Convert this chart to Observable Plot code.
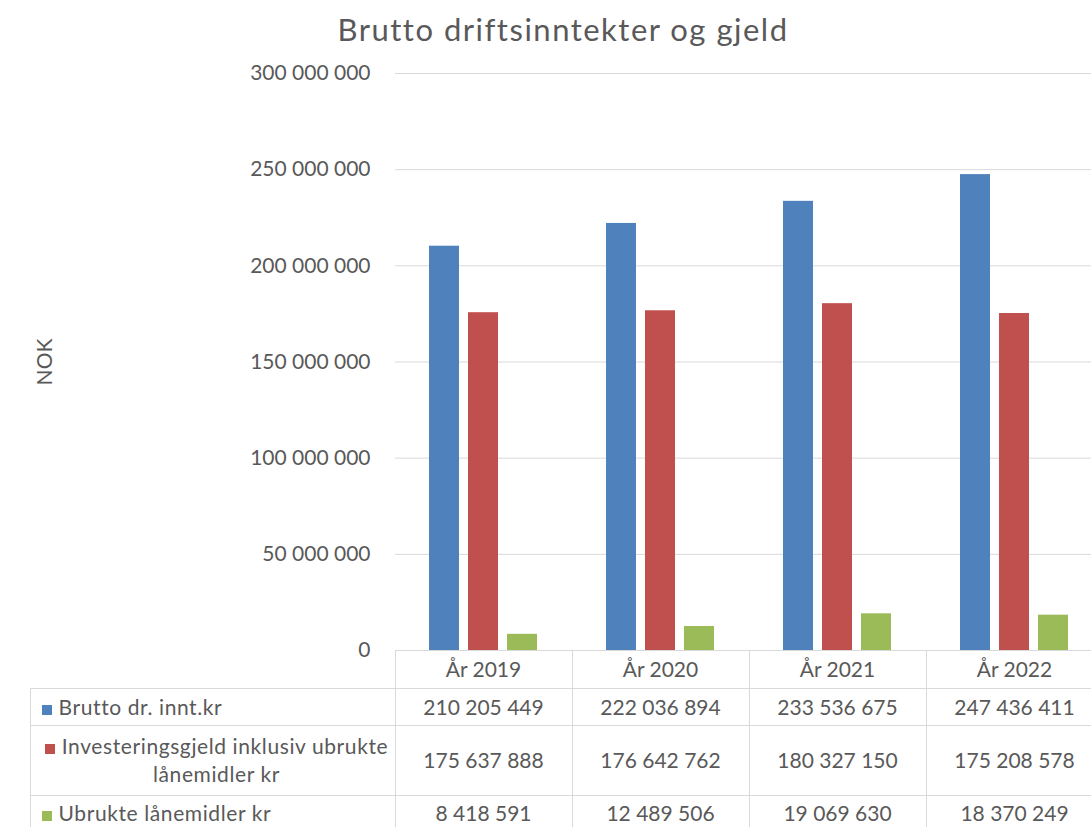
<!DOCTYPE html>
<html><head><meta charset="utf-8">
<script src="https://cdn.jsdelivr.net/npm/d3@7"></script>
<script src="https://cdn.jsdelivr.net/npm/@observablehq/plot@0.6"></script>
<style>
html,body{margin:0;padding:0;background:#fff;overflow:hidden}
#wrap{position:relative;width:1091px;height:827px;overflow:hidden;font-family:Lato,"Open Sans",sans-serif;color:#595959}
#title{position:absolute;left:0;top:14px;width:1126px;text-align:center;font-size:31px;line-height:31px;letter-spacing:1.5px;white-space:nowrap}
#chart{position:absolute;left:0;top:0;width:1110px}
#chart svg{max-width:none}
#tbl{position:absolute;border-collapse:collapse;table-layout:fixed;font-size:21px;line-height:28px}
#tbl td{border:1px solid #d9d9d9;padding:0;text-align:center;vertical-align:middle;white-space:nowrap}
#tbl td.name{text-align:left;padding:0 2px 0 11px;white-space:normal;letter-spacing:0.6px}
#tbl td.blank{border-top:none;border-left:none}
.lab{display:inline-block;text-align:center;max-width:350px}
.key{display:inline-block;width:10px;height:10px;margin-right:7px;vertical-align:0px}
</style></head>
<body><div id="wrap"><div id="title"></div><div id="chart"></div><table id="tbl"></table></div>
<script>
const title = "Brutto driftsinntekter og gjeld";
const yLabel = "NOK";
const years = ["År 2019", "År 2020", "År 2021", "År 2022"];
const seriesNames = ["Brutto dr. innt.kr", "Investeringsgjeld inklusiv ubrukte lånemidler kr", "Ubrukte lånemidler kr"];
const brutto = [210205449, 222036894, 233536675, 247436411];
const investering = [175637888, 176642762, 180327150, 175208578];
const ubrukte = [8418591, 12489506, 19069630, 18370249];
const colors = ["#4f81bd", "#c0504d", "#9bbb59"];
const yTicks = [0, 50000000, 100000000, 150000000, 200000000, 250000000, 300000000];

const seriesValues = [brutto, investering, ubrukte];
const data = years.flatMap((yr, i) => seriesNames.map((s, j) => ({year: yr, series: s, value: seriesValues[j][i]})));
const fmt = d => d3.format(",")(d).replace(/,/g, " ");

document.getElementById("title").textContent = title;

const chart = Plot.plot({
  width: 1110, height: 660,
  marginTop: 73, marginBottom: 10, marginLeft: 393, marginRight: 6,
  style: {fontFamily: "Lato, 'Open Sans', sans-serif", color: "#595959", background: "transparent", overflow: "visible", maxWidth: "none"},
  fx: {domain: years, padding: 0, axis: null, label: null},
  x: {domain: seriesNames, paddingInner: 0.225, paddingOuter: 0.8375, axis: null},
  y: {domain: [0, 300000000]},
  color: {domain: seriesNames, range: colors},
  marks: [
    Plot.gridY(yTicks, {stroke: "#d9d9d9", strokeOpacity: 1, strokeWidth: 1}),
    Plot.barY(data, {fx: "year", x: "series", y: "value", fill: "series"}),
    Plot.axisY(yTicks, {tickSize: 0, tickPadding: 25, tickFormat: fmt, fontSize: 21, fill: "#595959",
      label: yLabel, labelAnchor: "center", labelArrow: "none", labelOffset: 358})
  ]
});
document.getElementById("chart").appendChild(chart);

// data table below the plot, aligned on the fx scale
const fx = chart.scale("fx");
const colLeft = 30;
const firstW = fx.apply(years[0]) - colLeft;
const colW = fx.bandwidth;
const tbl = document.getElementById("tbl");
tbl.style.left = (colLeft - 0.5) + "px";
tbl.style.top = (650 - 0.5) + "px";
const cg = document.createElement("colgroup");
[firstW, ...years.map(() => colW)].forEach(w => { const c = document.createElement("col"); c.style.width = w + "px"; cg.appendChild(c); });
tbl.appendChild(cg);
tbl.style.width = (firstW + colW * years.length) + "px";
const rowH = [38, 37, 70, 36];
let tr = document.createElement("tr"); tr.style.height = rowH[0] + "px";
let td = document.createElement("td"); td.className = "blank"; tr.appendChild(td);
years.forEach(y => { const c = document.createElement("td"); c.textContent = y; tr.appendChild(c); });
tbl.appendChild(tr);
seriesNames.forEach((s, j) => {
  const r = document.createElement("tr"); r.style.height = rowH[j + 1] + "px";
  const n = document.createElement("td"); n.className = "name";
  const lab = document.createElement("span"); lab.className = "lab";
  const k = document.createElement("span"); k.className = "key"; k.style.background = colors[j];
  lab.appendChild(k); lab.appendChild(document.createTextNode(s));
  n.appendChild(lab); r.appendChild(n);
  seriesValues[j].forEach(v => { const c = document.createElement("td"); c.textContent = fmt(v); r.appendChild(c); });
  tbl.appendChild(r);
});
</script></body></html>
